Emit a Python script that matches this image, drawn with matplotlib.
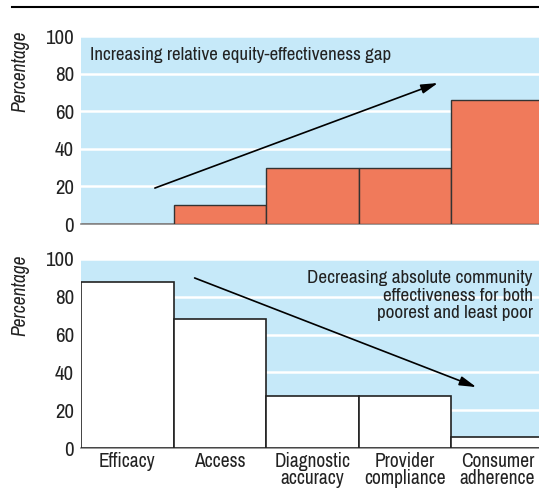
import numpy as np
import matplotlib.pyplot as plt
from matplotlib.lines import Line2D

# --- data ---
categories = ["Efficacy", "Access", "Diagnostic\naccuracy", "Provider\ncompliance", "Consumer\nadherence"]
gap_values = [0, 10, 30, 30, 66]
community_values = [88, 68, 27.5, 27.5, 6]
yticks = [0, 20, 40, 60, 80, 100]

# --- style ---
BG = "#c6e9f9"
CORAL = "#f07a5b"
TXT = "#222222"
plt.rcParams["font.family"] = ["Archivo Narrow", "DejaVu Sans"]

fig = plt.figure(figsize=(5.39, 4.88), dpi=100)
ax1 = fig.add_axes([81 / 539, (488 - 224) / 488, 458 / 539, 188 / 488])
ax2 = fig.add_axes([81 / 539, (488 - 448) / 488, 458 / 539, 189 / 488])

x = np.arange(len(categories))


def style_axis(ax):
    ax.set_facecolor(BG)
    ax.set_xlim(-0.5, 4.45)
    ax.set_ylim(0, 100)
    ax.set_yticks(yticks)
    ax.tick_params(axis="y", length=0, labelsize=15, pad=5, colors=TXT)
    ax.tick_params(axis="x", length=0)
    for s in ["left", "right", "top"]:
        ax.spines[s].set_visible(False)
    ax.spines["bottom"].set_color("#888888")
    ax.spines["bottom"].set_linewidth(1.2)
    ax.yaxis.grid(True, color="white", linewidth=1.8)
    ax.set_axisbelow(True)


# --- top panel ---
style_axis(ax1)
ax1.bar(x, gap_values, width=1.0, color=CORAL, edgecolor="#333333", linewidth=1.0, zorder=3)
ax1.set_xticks([])
ax1.text(-0.4, 90, "Increasing relative equity-effectiveness gap", fontsize=13.6,
         ha="left", va="center", color=TXT)
ax1.annotate("", xy=(3.385, 75.5), xytext=(0.27, 18.6),
             arrowprops=dict(arrowstyle="-|>,head_length=1.0,head_width=0.28", color="black", lw=1.2),
             zorder=5)

# --- bottom panel ---
style_axis(ax2)
ax2.bar(x, community_values, width=1.0, color="white", edgecolor="#222222", linewidth=1.2, zorder=3)
ax2.set_xticks(x)
ax2.set_xticklabels(categories, fontsize=14, color=TXT, linespacing=0.85)
ax2.tick_params(axis="x", pad=3)
ax2.text(4.38, 94, "Decreasing absolute community\neffectiveness for both\npoorest and least poor",
         fontsize=13.8, ha="right", va="top", color=TXT, linespacing=1.12, zorder=4)
ax2.annotate("", xy=(3.8, 31.7), xytext=(0.7, 90.5),
             arrowprops=dict(arrowstyle="-|>,head_length=1.0,head_width=0.28", color="black", lw=1.2),
             zorder=5)

# y labels placed near the top of each panel, as in the original
for ytop in (30, 254):
    fig.text(20 / 539, 1 - ytop / 488, "Percentage", rotation=90, style="italic",
             fontsize=14, color=TXT, ha="center", va="top")

# top rule
fig.add_artist(Line2D([12 / 539, 1.0], [1 - 7 / 488, 1 - 7 / 488], color="black", linewidth=1.5))

fig.savefig("out.png", dpi=100)
